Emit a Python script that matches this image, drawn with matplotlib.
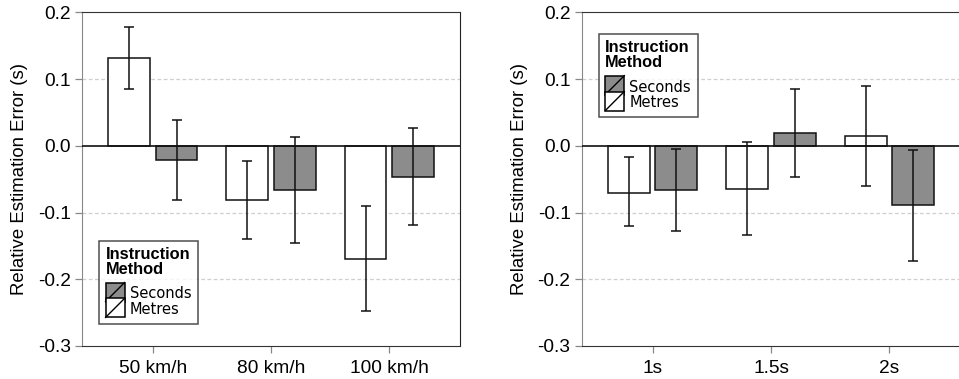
import numpy as np
import matplotlib
matplotlib.use('Agg')
import matplotlib.pyplot as plt
from matplotlib.legend_handler import HandlerBase
from matplotlib.patches import Rectangle, Patch
from matplotlib.lines import Line2D

# datos
speeds = ['50 km/h', '80 km/h', '100 km/h']
speed_metres = [0.131, -0.081, -0.169]
speed_metres_lo = [0.085, -0.140, -0.248]
speed_metres_hi = [0.178, -0.023, -0.090]
speed_seconds = [-0.022, -0.066, -0.047]
speed_seconds_lo = [-0.081, -0.146, -0.119]
speed_seconds_hi = [0.038, 0.013, 0.026]

gaps = ['1s', '1.5s', '2s']
gap_metres = [-0.070, -0.065, 0.014]
gap_metres_lo = [-0.120, -0.133, -0.061]
gap_metres_hi = [-0.017, 0.005, 0.089]
gap_seconds = [-0.066, 0.019, -0.088]
gap_seconds_lo = [-0.127, -0.047, -0.172]
gap_seconds_hi = [-0.005, 0.085, -0.006]

gris = '#8c8c8c'
fuente_ley = ['DejaVu Sans Condensed', 'DejaVu Sans']


class HandlerDiag(HandlerBase):
    # cuadro con linea diagonal, como en la leyenda original
    def create_artists(self, legend, orig, xd, yd, w, h, fs, trans):
        s = h + yd
        x0 = -xd
        y0 = -yd
        r = Rectangle((x0, y0), s, s, facecolor=orig.get_facecolor(),
                      edgecolor='black', lw=1.1, transform=trans)
        l = Line2D([x0, x0 + s], [y0, y0 + s], color='black', lw=1.0, transform=trans)
        return [r, l]


def panel(ax, cats, m, mlo, mhi, s, slo, shi, legend_loc):
    x = np.arange(len(cats))
    w = 0.355
    m = np.array(m); s = np.array(s)
    ax.bar(x - 0.2, m, w, color='white', edgecolor='#111111', lw=1.1, zorder=3)
    ax.bar(x + 0.2, s, w, color=gris, edgecolor='#111111', lw=1.1, zorder=3)
    ax.errorbar(x - 0.2, m, yerr=[m - np.array(mlo), np.array(mhi) - m], fmt='none',
                ecolor='#111111', elinewidth=1.1, capsize=3.5, capthick=1.1, zorder=4)
    ax.errorbar(x + 0.2, s, yerr=[s - np.array(slo), np.array(shi) - s], fmt='none',
                ecolor='#111111', elinewidth=1.1, capsize=3.5, capthick=1.1, zorder=4)
    ax.axhline(0, color='#111111', lw=1.2, zorder=5)
    for g in [0.1, -0.1, -0.2]:
        ax.axhline(g, color='#cfcfcf', lw=0.9, ls=(0, (3, 2)), zorder=1)
    ax.set_xlim(-0.6, 2.6)
    ax.set_ylim(-0.3, 0.2)
    ax.set_yticks([0.2, 0.1, 0.0, -0.1, -0.2, -0.3])
    ax.set_yticklabels(['0.2', '0.1', '0.0', '-0.1', '-0.2', '-0.3'])
    ax.set_xticks(x)
    ax.set_xticklabels(cats)
    ax.tick_params(axis='both', labelsize=13.8, color='#888888', length=5, width=0.9)
    ax.tick_params(axis='x', pad=5)
    ax.tick_params(axis='y', pad=3)
    ax.set_ylabel('Relative Estimation Error (s)', fontsize=13.4, labelpad=7)
    ax.spines['left'].set_color('#888888')
    ax.spines['right'].set_color('#222222')
    for k in ['top', 'bottom']:
        ax.spines[k].set_linestyle((0, (2, 1)))
        ax.spines[k].set_color('#333333')
    handles = [Patch(facecolor=gris), Patch(facecolor='white')]
    leg = ax.legend(handles, ['Seconds', 'Metres'], title='Instruction\nMethod',
                    loc=legend_loc, handler_map={Patch: HandlerDiag()},
                    prop={'family': fuente_ley, 'size': 10.5},
                    title_fontproperties={'family': 'Liberation Sans', 'weight': 'bold', 'size': 11.8},
                    frameon=True, fancybox=False, edgecolor='#222222',
                    handlelength=1.3, handleheight=1.3, handletextpad=0.35,
                    labelspacing=0.0, borderpad=0.45, alignment='left')
    leg.get_title().set_linespacing(1.0)
    leg._legend_box.sep = 6
    leg.get_frame().set_linewidth(1.1)
    leg.set_zorder(6)


plt.rcParams['font.family'] = ['Liberation Sans', 'DejaVu Sans']
fig = plt.figure(figsize=(9.59, 3.79), dpi=100)
ax1 = fig.add_axes([0.0855, 0.0871, 0.3942, 0.8804])
ax2 = fig.add_axes([0.6066, 0.0871, 0.3948, 0.8804])

panel(ax1, speeds, speed_metres, speed_metres_lo, speed_metres_hi,
      speed_seconds, speed_seconds_lo, speed_seconds_hi, (0.045, 0.066))
panel(ax2, gaps, gap_metres, gap_metres_lo, gap_metres_hi,
      gap_seconds, gap_seconds_lo, gap_seconds_hi, (0.045, 0.686))

fig.savefig('out.png', dpi=100)
